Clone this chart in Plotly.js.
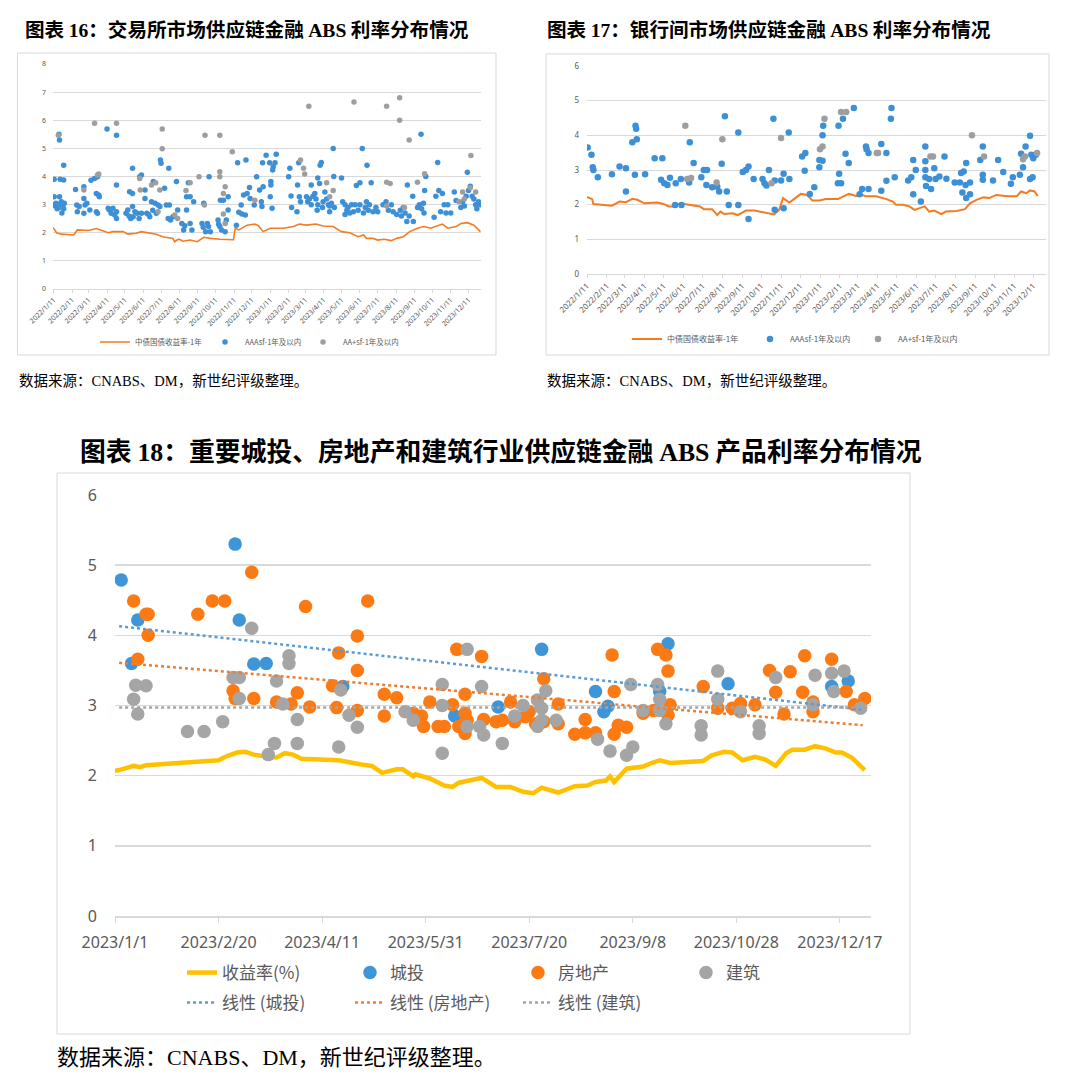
<!DOCTYPE html>
<html><head><meta charset="utf-8">
<script src="https://cdn.plot.ly/plotly-3.0.1.min.js"></script>
<style>html,body{margin:0;padding:0;background:#fff;}#chart{width:1080px;height:1078px;}</style>
</head><body><div id="chart"></div>
<script>
// ---------- shared month ticks (charts 16 & 17) ----------
const monthTickDates = ['2022-01-11','2022-02-11','2022-03-11','2022-04-11','2022-05-11','2022-06-11','2022-07-11','2022-08-11','2022-09-11','2022-10-11','2022-11-11','2022-12-11','2023-01-11','2023-02-11','2023-03-11','2023-04-11','2023-05-11','2023-06-11','2023-07-11','2023-08-11','2023-09-11','2023-10-11','2023-11-11','2023-12-11'];
const monthTickLabels = ['2022/1/11','2022/2/11','2022/3/11','2022/4/11','2022/5/11','2022/6/11','2022/7/11','2022/8/11','2022/9/11','2022/10/11','2022/11/11','2022/12/11','2023/1/11','2023/2/11','2023/3/11','2023/4/11','2023/5/11','2023/6/11','2023/7/11','2023/8/11','2023/9/11','2023/10/11','2023/11/11','2023/12/11'];

// ---------- chart 16: exchange market ----------
const exYield = [['2022-01-10',2.19],['2022-01-16',2.0],['2022-01-24',1.95],['2022-02-14',1.92],['2022-02-20',2.1],['2022-03-03',2.1],['2022-03-11',2.08],['2022-03-24',2.15],['2022-04-01',2.1],['2022-04-13',2.0],['2022-04-21',2.04],['2022-05-08',2.04],['2022-05-16',1.95],['2022-05-30',1.98],['2022-06-08',2.04],['2022-06-22',2.0],['2022-07-03',1.95],['2022-07-14',1.86],['2022-07-31',1.8],['2022-08-03',1.68],['2022-08-08',1.76],['2022-08-11',1.77],['2022-08-17',1.7],['2022-08-29',1.74],['2022-09-10',1.68],['2022-09-21',1.84],['2022-10-02',1.8],['2022-10-18',1.77],['2022-11-04',1.74],['2022-11-10',1.75],['2022-11-13',2.16],['2022-11-19',2.1],['2022-12-03',2.27],['2022-12-16',2.31],['2022-12-22',2.25],['2022-12-30',2.04],['2023-01-11',2.16],['2023-02-02',2.16],['2023-02-19',2.22],['2023-03-01',2.31],['2023-03-13',2.27],['2023-03-29',2.31],['2023-04-10',2.24],['2023-04-27',2.22],['2023-05-11',2.04],['2023-05-25',2.0],['2023-06-08',1.86],['2023-06-17',1.92],['2023-06-22',1.8],['2023-07-03',1.8],['2023-07-11',1.74],['2023-07-22',1.77],['2023-08-03',1.72],['2023-08-12',1.8],['2023-08-23',1.86],['2023-09-03',2.04],['2023-09-16',2.16],['2023-09-27',2.22],['2023-10-08',2.16],['2023-10-20',2.24],['2023-10-28',2.31],['2023-11-06',2.16],['2023-11-20',2.22],['2023-11-28',2.33],['2023-12-09',2.36],['2023-12-20',2.27],['2023-12-31',2.04]];
const exAAA = [['2022-01-12',3.9],['2022-01-12',3.28],['2022-01-11',3.0],['2022-01-14',2.95],['2022-01-15',3.05],['2022-01-17',2.85],['2022-01-19',3.0],['2022-01-20',5.5],['2022-01-21',5.3],['2022-01-21',3.28],['2022-01-22',3.9],['2022-01-25',2.7],['2022-01-27',3.0],['2022-01-28',3.88],['2022-01-28',4.4],['2022-01-28',2.85],['2022-01-29',3.05],['2022-01-20',2.9],['2022-01-24',3.1],
['2022-02-17',3.54],['2022-02-19',2.99],['2022-02-20',2.75],['2022-02-23',2.93],['2022-03-03',3.64],['2022-03-03',3.22],['2022-03-03',2.69],['2022-03-05',2.99],['2022-03-08',3.05],
['2022-03-13',2.81],['2022-03-15',3.87],['2022-03-21',3.93],['2022-03-24',3.4],['2022-03-26',3.99],['2022-03-28',3.34],['2022-03-29',3.28],['2022-03-26',2.69],['2022-03-24',2.75],
['2022-04-11',5.69],['2022-04-13',2.87],['2022-04-15',2.81],['2022-04-18',2.69],['2022-04-21',2.87],['2022-04-27',5.47],['2022-04-27',3.7],['2022-04-27',2.75],['2022-04-27',2.51],['2022-04-24',2.63],
['2022-05-13',2.69],['2022-05-16',2.81],['2022-05-19',3.46],['2022-05-24',4.29],['2022-05-24',3.4],['2022-05-25',2.57],['2022-05-24',2.93],['2022-05-21',2.51],['2022-06-01',2.69],['2022-06-05',3.99],['2022-06-08',4.05],['2022-06-08',2.69],['2022-06-04',2.51],['2022-05-28',2.75],['2022-05-18',2.6],
['2022-06-14',3.52],['2022-06-14',3.22],['2022-06-17',2.69],['2022-06-22',2.57],['2022-06-25',3.1],['2022-06-28',3.82],['2022-07-01',3.05],['2022-07-03',2.69],['2022-07-06',2.99],['2022-07-10',4.59],['2022-07-11',4.47],['2022-07-09',2.93],['2022-06-20',2.65],['2022-06-27',2.8],
['2022-07-17',3.58],['2022-07-20',2.99],['2022-07-24',4.29],['2022-07-25',2.99],['2022-07-23',2.51],['2022-07-27',2.45],['2022-07-31',2.57],['2022-08-06',3.82],['2022-08-08',2.81],
['2022-08-15',2.33],['2022-08-18',2.1],['2022-08-23',3.28],['2022-08-26',3.78],['2022-08-29',3.28],['2022-08-29',2.33],['2022-09-01',2.1],['2022-09-04',3.1],['2022-08-23',2.81],['2022-08-20',2.25],
['2022-09-18',2.33],['2022-09-21',3.05],['2022-09-24',2.04],['2022-09-27',2.33],['2022-09-29',2.22],['2022-09-30',3.99],['2022-10-02',2.04],['2022-09-20',2.2],
['2022-10-15',2.45],['2022-10-18',2.22],['2022-10-19',3.16],['2022-10-21',2.1],['2022-10-24',3.16],['2022-10-27',2.04],['2022-10-29',2.45],['2022-11-01',3.28],['2022-11-01',2.81],['2022-10-16',2.3],
['2022-11-15',2.27],['2022-11-17',4.49],['2022-11-19',2.73],['2022-11-23',2.99],['2022-11-24',2.67],['2022-11-27',3.34],['2022-12-01',4.59],['2022-12-03',3.4],['2022-11-30',2.63],['2022-12-07',3.61],['2022-12-08',3.22],
['2022-12-15',2.99],['2022-12-19',3.99],['2022-12-24',3.52],['2022-12-27',3.1],['2022-12-28',2.93],['2022-12-29',4.49],['2022-12-30',3.64],['2023-01-04',4.76],['2023-01-10',4.49],['2023-01-11',3.28],['2023-01-12',3.82],['2023-01-12',3.7],['2023-01-14',2.87],['2023-01-15',4.23],['2023-01-16',4.35],['2023-01-19',4.49],['2023-01-21',4.79],
['2023-02-13',4.29],['2023-02-11',3.99],['2023-02-15',3.31],['2023-02-16',2.9],['2023-02-25',2.75],['2023-02-26',3.7],['2023-02-28',4.49],['2023-03-01',3.28],['2023-03-03',3.1],
['2023-03-13',3.28],['2023-03-15',3.1],['2023-03-18',3.2],['2023-03-21',3.7],['2023-03-21',3.0],['2023-03-24',3.3],['2023-03-27',3.4],['2023-03-29',3.2],['2023-04-01',3.0],['2023-03-31',2.8],['2023-04-04',3.75],['2023-04-05',4.4],['2023-04-07',4.5],['2023-04-01',3.95],['2023-04-10',3.1],['2023-04-09',2.9],['2023-04-13',3.45],['2023-04-16',3.2],['2023-04-19',3.0],['2023-04-21',2.95],['2023-04-21',2.75],
['2023-04-27',5.0],['2023-04-28',4.0],['2023-04-24',3.05],['2023-04-29',2.9],['2023-05-11',3.95],['2023-05-13',3.1],['2023-05-17',3.0],['2023-05-20',2.8],['2023-05-17',2.65],['2023-05-22',2.9],['2023-05-25',2.7],['2023-05-28',3.0],['2023-05-31',2.75],['2023-06-03',3.0],
['2023-06-05',3.68],['2023-06-11',3.78],['2023-06-15',5.0],['2023-06-23',4.4],['2023-06-30',3.78],['2023-06-08',2.8],['2023-06-11',3.0],['2023-06-17',2.7],['2023-06-20',2.9],['2023-06-22',3.1],['2023-06-25',2.8],['2023-06-27',3.0],['2023-07-03',2.75],['2023-07-08',2.9],['2023-07-11',2.75],
['2023-07-20',3.0],['2023-07-25',3.1],['2023-07-29',2.8],['2023-08-03',3.0],['2023-08-06',2.75],['2023-08-12',2.65],['2023-08-18',2.8],['2023-08-20',2.6],['2023-08-23',2.9],['2023-08-26',2.7],['2023-08-29',2.4],['2023-08-30',3.7],['2023-09-02',2.6],['2023-09-08',3.3],['2023-09-09',2.4],
['2023-09-16',2.9],['2023-09-19',3.0],['2023-09-22',5.5],['2023-09-23',2.85],['2023-09-26',3.05],['2023-09-28',3.5],['2023-09-30',4.0],['2023-09-27',2.7],['2023-10-14',2.55],['2023-10-17',3.3],['2023-10-20',4.5],['2023-10-22',3.5],['2023-10-25',2.75],['2023-10-28',3.4],['2023-10-31',3.0],['2023-11-03',2.7],['2023-11-06',3.0],['2023-11-11',2.7],['2023-11-17',3.45],['2023-11-20',3.15],['2023-11-28',2.9],['2023-12-01',3.1],['2023-12-04',2.95],['2023-12-07',3.3],['2023-12-09',4.15],['2023-12-11',3.5],['2023-12-14',3.65],['2023-12-17',3.3],['2023-12-20',3.2],['2023-12-23',3.0],['2023-12-25',2.85],['2023-12-28',3.1],['2023-12-31',3.0]];
const exAAplus = [['2022-01-19',5.47],['2022-03-03',3.52],['2022-03-21',5.89],['2022-03-26',4.05],['2022-03-28',4.09],['2022-04-27',5.89],['2022-06-05',3.93],['2022-06-06',3.52],['2022-06-25',3.7],['2022-07-02',3.78],['2022-07-06',2.75],['2022-07-09',3.52],['2022-07-13',5.69],['2022-07-13',4.99],['2022-08-03',2.63],['2022-08-08',2.51],['2022-08-22',3.5],['2022-08-29',3.78],['2022-09-13',3.99],['2022-09-23',5.47],['2022-09-22',2.99],['2022-10-18',5.47],['2022-10-18',4.17],['2022-10-18',3.99],['2022-10-24',3.4],['2022-10-27',3.64],['2022-10-24',2.67],['2022-10-27',2.33],['2022-11-08',4.88],['2022-12-16',3.16],['2023-03-03',4.59],['2023-03-08',4.29],['2023-03-10',4.09],['2023-03-17',6.5],['2023-04-16',3.78],['2023-04-21',3.28],['2023-04-27',3.5],['2023-06-01',6.65],['2023-07-26',6.5],['2023-07-26',3.8],['2023-08-01',3.75],['2023-07-26',2.95],['2023-08-17',6.8],['2023-08-17',6.0],['2023-08-25',2.9],['2023-09-02',5.3],['2023-09-16',3.8],['2023-09-28',4.1],['2023-11-25',3.1],['2023-12-01',3.45],['2023-12-04',3.2],['2023-12-14',3.6],['2023-12-15',4.75],['2023-12-23',3.45]];

// ---------- chart 17: interbank market ----------
const ibYield = [['2022-01-11',2.22],['2022-01-19',2.16],['2022-01-21',2.02],['2022-02-03',2.0],['2022-02-19',1.97],['2022-03-03',2.09],['2022-03-13',2.07],['2022-03-23',2.17],['2022-03-31',2.14],['2022-04-11',2.04],['2022-05-01',2.06],['2022-05-11',2.02],['2022-05-19',1.95],['2022-05-30',1.95],['2022-06-01',2.02],['2022-06-12',2.02],['2022-06-22',2.0],['2022-07-07',1.95],['2022-07-13',1.87],['2022-07-26',1.87],['2022-08-03',1.7],['2022-08-08',1.8],['2022-08-14',1.73],['2022-08-27',1.75],['2022-09-04',1.7],['2022-09-17',1.83],['2022-09-30',1.83],['2022-10-15',1.77],['2022-10-31',1.72],['2022-11-08',1.85],['2022-11-14',2.19],['2022-11-24',2.06],['2022-12-12',2.31],['2022-12-22',2.28],['2022-12-30',2.12],['2023-01-10',2.12],['2023-01-20',2.16],['2023-02-08',2.16],['2023-02-18',2.24],['2023-02-25',2.31],['2023-03-09',2.25],['2023-03-19',2.28],['2023-03-24',2.24],['2023-04-09',2.24],['2023-04-25',2.16],['2023-05-05',2.09],['2023-05-10',2.0],['2023-05-21',2.0],['2023-05-31',1.95],['2023-06-08',1.85],['2023-06-16',1.9],['2023-06-24',1.95],['2023-07-01',1.8],['2023-07-09',1.83],['2023-07-20',1.73],['2023-07-27',1.8],['2023-08-13',1.82],['2023-08-26',1.87],['2023-09-03',2.04],['2023-09-13',2.14],['2023-09-24',2.21],['2023-10-03',2.19],['2023-10-14',2.28],['2023-11-01',2.24],['2023-11-15',2.24],['2023-11-22',2.38],['2023-11-30',2.33],['2023-12-06',2.41],['2023-12-13',2.38],['2023-12-18',2.25]];
const ibAAA = [['2022-01-12',3.65],['2022-01-18',3.44],['2022-01-20',3.08],['2022-01-21',3.0],['2022-01-28',2.79],['2022-02-19',2.88],['2022-03-03',3.1],['2022-03-13',3.05],['2022-03-13',2.38],['2022-03-23',3.8],['2022-03-27',2.86],['2022-03-28',4.28],['2022-03-29',4.19],['2022-03-30',3.89],['2022-04-12',2.88],['2022-04-27',3.34],['2022-05-09',3.34],['2022-05-07',2.72],['2022-05-12',2.62],['2022-05-17',2.57],['2022-05-21',2.78],['2022-05-29',1.99],['2022-05-30',2.62],['2022-06-07',2.74],['2022-06-08',1.99],['2022-06-20',2.64],['2022-06-21',3.8],['2022-06-27',3.2],['2022-07-09',2.79],['2022-07-13',3.0],['2022-07-18',3.0],['2022-07-17',2.57],['2022-07-26',2.5],['2022-08-03',2.52],['2022-08-06',2.38],['2022-08-10',3.18],['2022-08-15',4.55],['2022-08-18',2.38],['2022-08-21',1.99],['2022-09-05',4.08],['2022-09-05',1.99],['2022-09-12',2.94],['2022-09-17',3.0],['2022-09-21',3.1],['2022-09-21',1.59],['2022-09-29',2.74],['2022-10-13',2.74],['2022-10-16',2.62],['2022-10-19',2.55],['2022-10-23',3.0],['2022-10-30',4.48],['2022-11-01',1.85],['2022-11-01',2.7],['2022-11-11',2.7],['2022-11-15',2.89],['2022-11-15',1.9],['2022-11-23',4.08],['2022-11-24',2.74],['2022-12-14',3.39],['2022-12-19',3.49],['2022-12-18',2.98],['2022-12-26',2.31],['2023-01-02',2.5],['2023-01-10',3.08],['2023-01-10',3.29],['2023-01-15',3.27],['2023-01-15',4.0],['2023-01-16',4.28],['2023-02-09',4.28],['2023-02-16',4.48],['2023-02-10',2.89],['2023-02-08',2.62],['2023-02-13',2.62],['2023-02-20',3.47],['2023-02-25',3.2],['2023-03-05',4.79],['2023-03-14',2.3],['2023-03-18',2.45],['2023-03-24',3.68],['2023-03-25',3.6],['2023-03-28',3.49],['2023-03-28',2.45],['2023-04-17',3.75],['2023-04-17',2.4],['2023-04-25',3.49],['2023-04-25',2.69],['2023-05-02',4.48],['2023-05-03',4.79],['2023-05-08',2.79],['2023-05-29',2.7],['2023-06-03',2.79],['2023-06-06',3.29],['2023-06-06',2.3],['2023-06-10',3.0],['2023-06-18',2.09],['2023-06-25',3.68],['2023-06-25',3.25],['2023-06-25',3.0],['2023-06-25',2.79],['2023-06-26',2.54],['2023-07-04',2.45],['2023-07-01',2.74],['2023-07-09',3.05],['2023-07-11',2.74],['2023-07-17',2.81],['2023-07-25',3.39],['2023-07-28',2.75],['2023-08-10',2.64],['2023-08-18',2.64],['2023-08-20',2.91],['2023-08-22',2.35],['2023-08-24',2.96],['2023-08-27',2.57],['2023-08-28',3.2],['2023-08-28',2.19],['2023-09-03',2.3],['2023-09-03',2.64],['2023-09-19',3.29],['2023-09-23',3.68],['2023-09-23',2.86],['2023-09-23',2.72],['2023-10-09',2.7],['2023-10-17',3.29],['2023-10-25',2.94],['2023-11-06',2.6],['2023-11-09',2.79],['2023-11-20',2.86],['2023-11-22',3.47],['2023-11-25',3.08],['2023-11-29',3.68],['2023-12-06',3.99],['2023-12-06',2.74],['2023-12-08',3.44],['2023-12-10',2.79],['2023-12-11',3.34],['2023-12-15',3.44]];
const ibAAplus = [['2022-06-14',4.28],['2022-06-17',2.74],['2022-06-23',2.77],['2022-08-02',2.64],['2022-08-11',3.89],['2022-10-27',2.62],['2022-11-11',3.92],['2023-01-11',3.6],['2023-01-15',3.68],['2023-01-18',4.48],['2023-02-13',4.67],['2023-02-21',4.67],['2023-04-10',3.49],['2023-04-12',3.49],['2023-07-03',3.39],['2023-07-07',3.39],['2023-09-06',4.0],['2023-09-25',3.39],['2023-11-25',3.31],['2023-11-28',3.39],['2023-12-17',3.49]];

// ---------- chart 18: 城投 / 房地产 / 建筑 ----------
const dateTicks18 = ['2023-01-01','2023-02-20','2023-04-11','2023-05-31','2023-07-20','2023-09-08','2023-10-28','2023-12-17'];
const dateLabels18 = ['2023/1/1','2023/2/20','2023/4/11','2023/5/31','2023/7/20','2023/9/8','2023/10/28','2023/12/17'];
const yieldRate = [['2023-01-01',2.07],['2023-01-03',2.08],['2023-01-10',2.14],['2023-01-13',2.12],['2023-01-16',2.15],['2023-02-12',2.2],['2023-02-20',2.22],['2023-02-24',2.28],['2023-03-01',2.33],['2023-03-05',2.34],['2023-03-09',2.3],['2023-03-16',2.27],['2023-03-20',2.26],['2023-03-24',2.32],['2023-03-28',2.3],['2023-04-01',2.24],['2023-04-19',2.22],['2023-04-30',2.16],['2023-05-05',2.14],['2023-05-10',2.04],['2023-05-17',2.09],['2023-05-20',2.09],['2023-05-25',1.99],['2023-05-26',2.02],['2023-06-02',1.96],['2023-06-09',1.86],['2023-06-13',1.84],['2023-06-16',1.9],['2023-06-22',1.94],['2023-06-27',1.97],['2023-07-04',1.84],['2023-07-11',1.84],['2023-07-17',1.77],['2023-07-22',1.75],['2023-07-26',1.83],['2023-08-03',1.76],['2023-08-11',1.85],['2023-08-17',1.86],['2023-08-21',1.91],['2023-08-26',1.93],['2023-08-28',1.99],['2023-08-30',1.91],['2023-09-05',2.1],['2023-09-13',2.13],['2023-09-17',2.18],['2023-09-21',2.22],['2023-09-26',2.18],['2023-10-12',2.21],['2023-10-16',2.29],['2023-10-22',2.34],['2023-10-26',2.33],['2023-10-31',2.22],['2023-11-06',2.27],['2023-11-11',2.23],['2023-11-16',2.14],['2023-11-21',2.32],['2023-11-24',2.37],['2023-11-30',2.37],['2023-12-05',2.42],['2023-12-10',2.39],['2023-12-15',2.33],['2023-12-18',2.33],['2023-12-23',2.25],['2023-12-26',2.17],['2023-12-29',2.08]];
const chengtou = [['2023-01-04',4.79],['2023-01-12',4.22],['2023-01-09',3.6],['2023-02-28',5.3],['2023-03-02',4.22],['2023-03-09',3.59],['2023-03-15',3.6],['2023-04-21',3.27],['2023-06-14',2.85],['2023-07-05',2.98],['2023-07-26',3.8],['2023-08-21',3.2],['2023-08-27',2.99],['2023-08-25',2.91],['2023-09-25',3.88],['2023-09-21',3.2],['2023-10-24',3.31],['2023-12-13',3.27],['2023-12-21',3.35]];
const fangdichan = [['2023-01-10',4.49],['2023-01-16',4.3],['2023-01-17',4.3],['2023-01-17',4.0],['2023-01-12',3.66],['2023-02-10',4.3],['2023-02-17',4.49],['2023-02-23',4.49],['2023-03-08',4.9],['2023-02-27',3.21],['2023-02-28',3.1],['2023-03-09',3.1],['2023-04-03',4.41],['2023-03-20',3.05],['2023-03-27',3.02],['2023-03-30',3.18],['2023-04-05',2.98],['2023-05-03',4.49],['2023-04-28',3.99],['2023-04-19',3.75],['2023-04-28',3.5],['2023-04-16',3.28],['2023-04-18',2.97],['2023-04-28',2.93],['2023-05-11',3.16],['2023-05-17',3.11],['2023-05-11',2.85],['2023-06-02',3.05],['2023-05-25',2.89],['2023-05-29',2.85],['2023-05-30',2.7],['2023-06-06',2.7],['2023-06-09',2.7],['2023-06-15',3.8],['2023-06-27',3.7],['2023-06-19',3.16],['2023-06-13',3.01],['2023-06-19',2.89],['2023-06-20',2.79],['2023-06-16',2.7],['2023-06-19',2.6],['2023-06-28',2.8],['2023-07-04',2.77],['2023-07-11',3.05],['2023-07-07',2.79],['2023-07-13',2.77],['2023-07-18',2.84],['2023-07-20',2.91],['2023-07-27',3.38],['2023-07-23',2.74],['2023-08-03',3.02],['2023-08-03',2.74],['2023-07-27',2.77],['2023-08-11',2.59],['2023-08-16',2.8],['2023-08-16',2.61],['2023-08-21',2.61],['2023-08-29',3.72],['2023-08-30',3.2],['2023-08-30',2.59],['2023-09-01',2.72],['2023-09-05',2.69],['2023-09-13',2.89],['2023-09-20',3.8],['2023-09-24',3.72],['2023-09-25',3.49],['2023-09-26',3.01],['2023-09-25',2.86],['2023-09-18',2.93],['2023-10-12',3.27],['2023-10-19',2.96],['2023-10-26',2.96],['2023-10-30',3.03],['2023-11-06',3.01],['2023-11-13',3.5],['2023-11-16',3.19],['2023-11-20',2.88],['2023-11-23',3.48],['2023-11-30',3.71],['2023-11-29',3.19],['2023-12-04',3.05],['2023-12-04',2.91],['2023-12-13',3.66],['2023-12-20',3.2],['2023-12-24',3.01],['2023-12-29',3.1]];
const jianzhu = [['2023-03-08',4.1],['2023-01-11',3.29],['2023-01-16',3.28],['2023-01-10',3.09],['2023-01-12',2.88],['2023-02-05',2.63],['2023-02-13',2.63],['2023-02-22',2.77],['2023-02-27',3.4],['2023-03-02',3.4],['2023-03-02',3.1],['2023-03-26',3.71],['2023-03-26',3.6],['2023-03-20',3.35],['2023-03-23',3.02],['2023-03-30',2.8],['2023-03-19',2.46],['2023-03-16',2.3],['2023-03-30',2.46],['2023-04-20',3.22],['2023-04-24',2.86],['2023-04-28',2.69],['2023-04-19',2.41],['2023-06-08',3.3],['2023-06-08',3.0],['2023-05-21',2.91],['2023-05-25',2.79],['2023-06-08',2.32],['2023-06-20',3.8],['2023-06-27',3.27],['2023-06-20',2.7],['2023-06-26',2.7],['2023-06-28',2.58],['2023-07-07',2.46],['2023-07-13',2.85],['2023-07-17',3.0],['2023-07-24',3.08],['2023-07-28',3.21],['2023-07-26',2.96],['2023-07-26',2.79],['2023-07-24',2.7],['2023-08-02',2.79],['2023-08-22',2.52],['2023-08-28',2.35],['2023-09-05',2.29],['2023-09-08',2.41],['2023-09-07',3.3],['2023-09-13',2.93],['2023-09-20',3.3],['2023-09-21',3.09],['2023-09-21',2.93],['2023-09-24',2.74],['2023-10-19',3.49],['2023-10-19',3.09],['2023-10-11',2.71],['2023-10-11',2.58],['2023-10-30',2.91],['2023-11-08',2.71],['2023-11-08',2.6],['2023-11-16',3.4],['2023-12-05',3.43],['2023-12-04',3.01],['2023-12-13',3.46],['2023-12-19',3.49],['2023-12-14',3.2],['2023-12-27',2.96]];
// linear trend lines (start / end values)
const trendDates = ['2023-01-03','2023-12-28'];
const trendChengtou = [4.13, 2.94];
const trendFangdichan = [3.61, 2.72];
const trendJianzhu = [2.97, 2.97];

// ---------- helpers ----------
const W = 1080, H = 1078;
const px = v => v / W, py = v => 1 - v / H;
const X = a => a.map(p => p[0]), Y = a => a.map(p => p[1]);
const CJK = '"Noto Sans CJK SC", "Noto Sans", sans-serif';
const LAT = '"Noto Sans", "Noto Sans CJK SC", sans-serif';
const SERIF = "'Liberation Serif'";
const GRID = '#d9d9d9', TXT = '#595959';

const cOrange16 = '#F47B20', cBlue16 = '#3D8FD6', cGray16 = '#9E9E9E';
const cGold = '#FFC000', cBlue = '#3E95D8', cOrange = '#FB7A14', cGray = '#A5A5A5';

const traces = [
  {x:X(exYield), y:Y(exYield), type:'scatter', mode:'lines', name:'中债国债收益率-1年', line:{color:cOrange16, width:1.6}, xaxis:'x', yaxis:'y', legend:'legend', legendwidth:65},
  {x:X(exAAA), y:Y(exAAA), type:'scatter', mode:'markers', name:'AAAsf-1年及以内', marker:{color:cBlue16, size:5.5}, xaxis:'x', yaxis:'y', legend:'legend', legendwidth:53},
  {x:X(exAAplus), y:Y(exAAplus), type:'scatter', mode:'markers', name:'AA+sf-1年及以内', marker:{color:cGray16, size:5.5}, xaxis:'x', yaxis:'y', legend:'legend'},

  {x:X(ibYield), y:Y(ibYield), type:'scatter', mode:'lines', name:'中债国债收益率-1年', line:{color:cOrange16, width:2}, xaxis:'x2', yaxis:'y2', legend:'legend2', legendwidth:78},
  {x:X(ibAAA), y:Y(ibAAA), type:'scatter', mode:'markers', name:'AAAsf-1年及以内', marker:{color:cBlue16, size:6.5}, xaxis:'x2', yaxis:'y2', legend:'legend2', legendwidth:63},
  {x:X(ibAAplus), y:Y(ibAAplus), type:'scatter', mode:'markers', name:'AA+sf-1年及以内', marker:{color:cGray16, size:6.5}, xaxis:'x2', yaxis:'y2', legend:'legend2'},

  {x:X(yieldRate), y:Y(yieldRate), type:'scatter', mode:'lines', name:'收益率(%)', line:{color:cGold, width:4.5}, xaxis:'x3', yaxis:'y3', legend:'legend3'},
  {x:X(chengtou), y:Y(chengtou), type:'scatter', mode:'markers', name:'城投', marker:{color:cBlue, size:13.5}, xaxis:'x3', yaxis:'y3', legend:'legend3'},
  {x:X(fangdichan), y:Y(fangdichan), type:'scatter', mode:'markers', name:'房地产', marker:{color:cOrange, size:13.5}, xaxis:'x3', yaxis:'y3', legend:'legend3'},
  {x:X(jianzhu), y:Y(jianzhu), type:'scatter', mode:'markers', name:'建筑', marker:{color:cGray, size:13.5}, xaxis:'x3', yaxis:'y3', legend:'legend3'},
  {x:trendDates, y:trendChengtou, type:'scatter', mode:'lines', name:'线性 (城投)', line:{color:'#5B9BD5', width:2.5, dash:'dot'}, xaxis:'x3', yaxis:'y3', legend:'legend4'},
  {x:trendDates, y:trendFangdichan, type:'scatter', mode:'lines', name:'线性 (房地产)', line:{color:'#ED7D31', width:2.5, dash:'dot'}, xaxis:'x3', yaxis:'y3', legend:'legend4'},
  {x:trendDates, y:trendJianzhu, type:'scatter', mode:'lines', name:'线性 (建筑)', line:{color:cGray, width:2.5, dash:'dot'}, xaxis:'x3', yaxis:'y3', legend:'legend4'}
];

function xDate(domain, anchor, range, fs) {
  return {domain:domain, anchor:anchor, type:'date', range:range, tickvals:monthTickDates, ticktext:monthTickLabels,
    tickangle:-45, tickfont:{size:fs, color:TXT, family:LAT}, ticks:'outside', ticklen:3, tickcolor:GRID,
    showline:true, linecolor:GRID, linewidth:1, showgrid:false, zeroline:false, fixedrange:true};
}
function yLin(domain, anchor, range, fs, standoff) {
  return {domain:domain, anchor:anchor, range:range, dtick:1, showgrid:true, gridcolor:GRID, gridwidth:1,
    zeroline:false, showline:false, ticks:'', tickfont:{size:fs, color:TXT, family:LAT}, ticklabelstandoff:standoff, fixedrange:true};
}
function legendAt(x, y, fs, extra) {
  return Object.assign({orientation:'h', x:px(x), y:py(y), xanchor:'left', yanchor:'middle', bgcolor:'rgba(0,0,0,0)',
    borderwidth:0, font:{size:fs, color:TXT, family:CJK}, traceorder:'normal'}, extra || {});
}
function box(x0, y0, x1, y1) {
  return {type:'rect', xref:'paper', yref:'paper', x0:px(x0), x1:px(x1), y0:py(y1), y1:py(y0), line:{color:GRID, width:1}, fillcolor:'rgba(0,0,0,0)', layer:'below'};
}
function note(text, x, y, fs, anchor, color) {
  return {text:text, xref:'paper', yref:'paper', x:px(x), y:py(y), xanchor:anchor || 'left', yanchor:'middle', showarrow:false,
    font:{size:fs, color:color || '#000', family:CJK}};
}

const layout = {
  width:W, height:H, margin:{l:0, r:0, t:0, b:0, autoexpand:false},
  paper_bgcolor:'#ffffff', plot_bgcolor:'rgba(0,0,0,0)', hovermode:false, showlegend:true,
  font:{family:CJK, color:TXT},
  xaxis: xDate([px(53), px(481)], 'y', ['2022-01-10','2024-01-01'], 7),
  yaxis: yLin([py(289), py(64)], 'x', [0, 8], 7, 6),
  xaxis2: xDate([px(587), px(1046)], 'y2', ['2022-01-11','2023-12-31'], 8),
  yaxis2: yLin([py(274), py(66)], 'x2', [0, 6], 8, 7),
  xaxis3: {domain:[px(115), px(871)], anchor:'y3', type:'date', range:['2023-01-01','2024-01-01'], tickvals:dateTicks18, ticktext:dateLabels18,
    tickangle:0, tickfont:{size:16, color:TXT, family:LAT}, ticks:'outside', ticklen:5, tickcolor:GRID, ticklabelstandoff:6,
    showline:true, linecolor:GRID, linewidth:1.5, showgrid:false, zeroline:false, fixedrange:true},
  yaxis3: Object.assign(yLin([py(916), py(495)], 'x3', [0, 6], 16, 17), {gridwidth:1.5}),
  legend: legendAt(95, 342, 7.5),
  legend2: legendAt(627, 339, 8),
  legend3: legendAt(182, 973, 17, {entrywidth:123, entrywidthmode:'pixels'}),
  legend4: legendAt(182, 1003, 17, {entrywidth:123, entrywidthmode:'pixels'}),
  shapes: [box(17.5, 53, 496, 355), box(546, 54, 1049, 355), box(57, 473, 910, 1034)],
  annotations: [
    note('<b>图表 <span style="font-family:' + SERIF + '">16</span>：交易所市场供应链金融 <span style="font-family:' + SERIF + '">ABS</span> 利率分布情况</b>', 23, 28, 19.6),
    note('<b>图表 <span style="font-family:' + SERIF + '">17</span>：银行间市场供应链金融 <span style="font-family:' + SERIF + '">ABS</span> 利率分布情况</b>', 545, 28, 19.6),
    note('数据来源：<span style="font-family:' + SERIF + '">CNABS</span>、<span style="font-family:' + SERIF + '">DM</span>，新世纪评级整理。', 17, 379, 14.5),
    note('数据来源：<span style="font-family:' + SERIF + '">CNABS</span>、<span style="font-family:' + SERIF + '">DM</span>，新世纪评级整理。', 545, 379, 14.5),
    note('<b>图表 <span style="font-family:' + SERIF + '">18</span>：重要城投、房地产和建筑行业供应链金融 <span style="font-family:' + SERIF + '">ABS</span> 产品利率分布情况</b>', 501, 449, 25.8, 'center'),
    note('数据来源：<span style="font-family:' + SERIF + '">CNABS</span>、<span style="font-family:' + SERIF + '">DM</span>，新世纪评级整理。', 55, 1055, 22)
  ]
};

Plotly.newPlot('chart', traces, layout, {displayModeBar:false, staticPlot:true});
</script>
</body></html>
